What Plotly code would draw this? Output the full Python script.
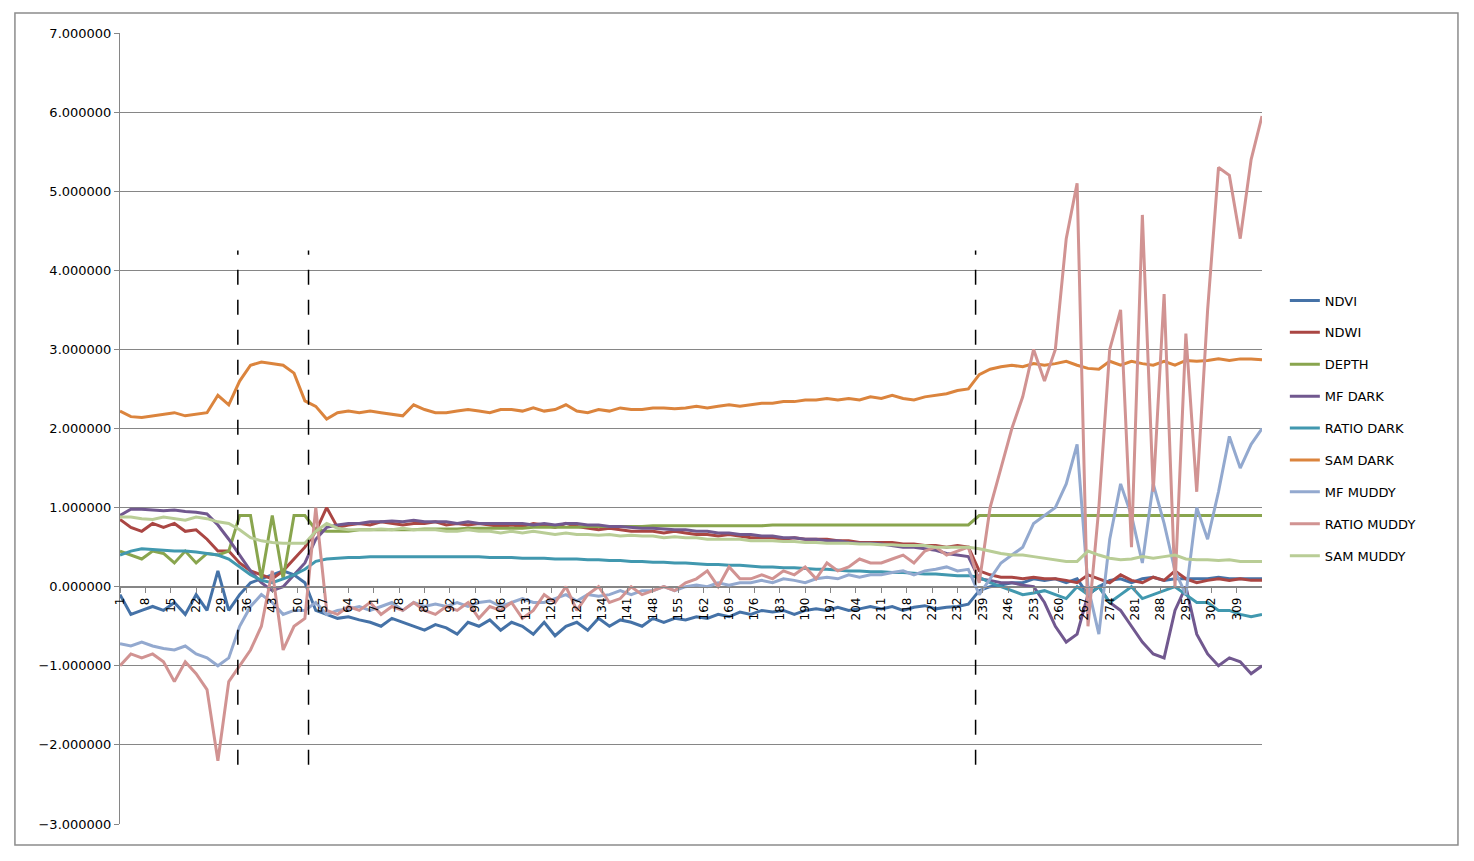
import plotly.graph_objects as go

# sample index (every 3rd row of the original sheet)
x_idx = list(range(1, 317, 3))
x_ticks = list(range(1, 316, 7))

ndvi = [-0.1, -0.35, -0.3, -0.25, -0.3, -0.2, -0.35, -0.1, -0.3, 0.2,
        -0.3, -0.1, 0.05, 0.1, 0.15, 0.2, 0.15, 0.05, -0.3, -0.35,
        -0.4, -0.38, -0.42, -0.45, -0.5, -0.4, -0.45, -0.5, -0.55, -0.48,
        -0.52, -0.6, -0.45, -0.5, -0.42, -0.55, -0.45, -0.5, -0.6, -0.45,
        -0.62, -0.5, -0.45, -0.55, -0.4, -0.5, -0.42, -0.45, -0.5, -0.4,
        -0.45, -0.4, -0.42, -0.38, -0.4, -0.35, -0.38, -0.32, -0.35, -0.3,
        -0.32, -0.3, -0.35, -0.3, -0.28, -0.3, -0.26, -0.3, -0.28, -0.25,
        -0.28, -0.25, -0.3, -0.26, -0.24, -0.28, -0.26, -0.25, -0.22, -0.05,
        0.0, 0.02, 0.05, 0.05, 0.1, 0.08, 0.1, 0.05, 0.1, -0.1,
        0.0, 0.08, 0.1, 0.05, 0.1, 0.12, 0.08, 0.1, 0.1, 0.1,
        0.1, 0.12, 0.1, 0.1, 0.1, 0.1]
ndwi = [0.85, 0.75, 0.7, 0.8, 0.75, 0.8, 0.7, 0.72, 0.6, 0.45,
        0.45, 0.3, 0.2, 0.15, 0.1, 0.2, 0.35, 0.5, 0.7, 1.0,
        0.75, 0.78, 0.8, 0.78, 0.82, 0.8, 0.78, 0.8, 0.8, 0.82,
        0.78, 0.8, 0.78, 0.8, 0.78, 0.76, 0.78, 0.76, 0.8, 0.78,
        0.75, 0.8, 0.76, 0.74, 0.72, 0.74, 0.72, 0.7, 0.7, 0.7,
        0.68, 0.7, 0.68, 0.66, 0.66, 0.64, 0.66, 0.64, 0.62, 0.62,
        0.62, 0.6, 0.62, 0.6, 0.6, 0.6, 0.58, 0.58, 0.56, 0.56,
        0.56, 0.56, 0.54, 0.54, 0.52, 0.52, 0.5, 0.52, 0.5, 0.2,
        0.15, 0.12, 0.12, 0.1, 0.12, 0.1, 0.1, 0.08, 0.05, 0.15,
        0.1, 0.05, 0.15, 0.08, 0.05, 0.12, 0.08, 0.2, 0.1, 0.05,
        0.08, 0.1, 0.08, 0.1, 0.08, 0.08]
depth = [0.45, 0.4, 0.35, 0.45, 0.42, 0.3, 0.45, 0.3, 0.42, 0.4,
         0.45, 0.9, 0.9, 0.1, 0.9, 0.1, 0.9, 0.9, 0.72, 0.7,
         0.7, 0.7, 0.72, 0.72, 0.72, 0.72, 0.72, 0.72, 0.73, 0.73,
         0.73, 0.73, 0.74, 0.74, 0.74, 0.74, 0.74, 0.74, 0.75, 0.75,
         0.75, 0.75, 0.75, 0.76, 0.76, 0.76, 0.76, 0.76, 0.76, 0.77,
         0.77, 0.77, 0.77, 0.77, 0.77, 0.77, 0.77, 0.77, 0.77, 0.77,
         0.78, 0.78, 0.78, 0.78, 0.78, 0.78, 0.78, 0.78, 0.78, 0.78,
         0.78, 0.78, 0.78, 0.78, 0.78, 0.78, 0.78, 0.78, 0.78, 0.9,
         0.9, 0.9, 0.9, 0.9, 0.9, 0.9, 0.9, 0.9, 0.9, 0.9,
         0.9, 0.9, 0.9, 0.9, 0.9, 0.9, 0.9, 0.9, 0.9, 0.9,
         0.9, 0.9, 0.9, 0.9, 0.9, 0.9]
mf_dark = [0.9, 0.98, 0.98, 0.97, 0.96, 0.97, 0.95, 0.94, 0.92, 0.78,
           0.6, 0.4, 0.2, 0.05, -0.05, 0.0, 0.15, 0.3, 0.6, 0.75,
           0.78, 0.8, 0.8, 0.82, 0.82, 0.83, 0.82, 0.84, 0.82, 0.82,
           0.82, 0.8, 0.82, 0.8, 0.8, 0.8, 0.8, 0.8, 0.78, 0.8,
           0.78, 0.8, 0.8, 0.78, 0.78, 0.76, 0.76, 0.75, 0.74, 0.74,
           0.73, 0.72, 0.72, 0.7, 0.7, 0.68, 0.68, 0.66, 0.66, 0.64,
           0.64, 0.62, 0.62, 0.6, 0.6, 0.58, 0.58, 0.56, 0.55, 0.55,
           0.54, 0.52, 0.5, 0.5, 0.48, 0.46, 0.42, 0.4, 0.38, 0.1,
           0.08, 0.05, 0.05, 0.02, 0.0, -0.2, -0.5, -0.7, -0.6, -0.1,
           0.0, -0.2, -0.3, -0.5, -0.7, -0.85, -0.9, -0.3, 0.0, -0.6,
           -0.85, -1.0, -0.9, -0.95, -1.1, -1.0]
ratio_dark = [0.4, 0.45, 0.48, 0.47, 0.46, 0.45, 0.45, 0.44, 0.42, 0.4,
              0.35, 0.25, 0.15, 0.08, 0.05, 0.1, 0.15, 0.22, 0.32, 0.35,
              0.36, 0.37, 0.37, 0.38, 0.38, 0.38, 0.38, 0.38, 0.38, 0.38,
              0.38, 0.38, 0.38, 0.38, 0.37, 0.37, 0.37, 0.36, 0.36, 0.36,
              0.35, 0.35, 0.35, 0.34, 0.34, 0.33, 0.33, 0.32, 0.32, 0.31,
              0.31, 0.3, 0.3, 0.29, 0.28, 0.28, 0.27, 0.27, 0.26, 0.25,
              0.25, 0.24, 0.24, 0.23, 0.22, 0.22, 0.21, 0.2, 0.2, 0.19,
              0.19, 0.18, 0.18, 0.17, 0.16, 0.16, 0.15, 0.14, 0.14, 0.12,
              0.05, 0.0, -0.05, -0.1, -0.08, -0.05, -0.1, -0.15, 0.0, -0.1,
              0.0, -0.2, -0.1, 0.0, -0.15, -0.1, -0.05, 0.0, -0.1, -0.2,
              -0.2, -0.3, -0.3, -0.35, -0.38, -0.35]
sam_dark = [2.22, 2.15, 2.14, 2.16, 2.18, 2.2, 2.16, 2.18, 2.2, 2.42,
            2.3, 2.6, 2.8, 2.84, 2.82, 2.8, 2.7, 2.35, 2.28, 2.12,
            2.2, 2.22, 2.2, 2.22, 2.2, 2.18, 2.16, 2.3, 2.24, 2.2,
            2.2, 2.22, 2.24, 2.22, 2.2, 2.24, 2.24, 2.22, 2.26, 2.22,
            2.24, 2.3, 2.22, 2.2, 2.24, 2.22, 2.26, 2.24, 2.24, 2.26,
            2.26, 2.25, 2.26, 2.28, 2.26, 2.28, 2.3, 2.28, 2.3, 2.32,
            2.32, 2.34, 2.34, 2.36, 2.36, 2.38, 2.36, 2.38, 2.36, 2.4,
            2.38, 2.42, 2.38, 2.36, 2.4, 2.42, 2.44, 2.48, 2.5, 2.68,
            2.75, 2.78, 2.8, 2.78, 2.82, 2.8, 2.82, 2.85, 2.8, 2.76,
            2.75, 2.85, 2.8, 2.85, 2.82, 2.8, 2.85, 2.8, 2.86, 2.85,
            2.86, 2.88, 2.86, 2.88, 2.88, 2.87]
mf_muddy = [-0.72, -0.75, -0.7, -0.75, -0.78, -0.8, -0.75, -0.85, -0.9, -1.0,
            -0.9, -0.5, -0.25, -0.1, -0.2, -0.35, -0.3, -0.3, -0.2, -0.35,
            -0.3, -0.28, -0.25, -0.3, -0.25, -0.2, -0.3, -0.2, -0.25, -0.22,
            -0.25, -0.2, -0.25, -0.2, -0.18, -0.25, -0.2, -0.15, -0.2, -0.2,
            -0.15, -0.1, -0.18, -0.1, -0.12, -0.1, -0.05, -0.1, -0.05, -0.05,
            0.0, -0.05, 0.0, 0.02, 0.0, 0.05, 0.02, 0.05, 0.05, 0.08,
            0.05, 0.1, 0.08, 0.05, 0.1, 0.12, 0.1, 0.15, 0.12, 0.15,
            0.15, 0.18, 0.2, 0.15, 0.2, 0.22, 0.25, 0.2, 0.22, -0.1,
            0.1, 0.3, 0.4, 0.5, 0.8, 0.9, 1.0, 1.3, 1.8, 0.0,
            -0.6, 0.6, 1.3, 0.9, 0.3, 1.3, 0.8, 0.2, -0.1, 1.0,
            0.6, 1.2, 1.9, 1.5, 1.8, 2.0]
ratio_muddy = [-1.0, -0.85, -0.9, -0.85, -0.95, -1.2, -0.95, -1.1, -1.3, -2.2,
               -1.2, -1.0, -0.8, -0.5, 0.2, -0.8, -0.5, -0.4, 1.0, -0.3,
               -0.35, -0.25, -0.3, -0.2, -0.35, -0.25, -0.3, -0.2, -0.3, -0.35,
               -0.25, -0.3, -0.2, -0.4, -0.25, -0.3, -0.2, -0.4, -0.3, -0.1,
               -0.2, 0.0, -0.3, -0.1, 0.0, -0.2, -0.15, 0.0, -0.1, -0.05,
               0.0, -0.05, 0.05, 0.1, 0.2, 0.0, 0.25, 0.1, 0.1, 0.15,
               0.1, 0.2, 0.15, 0.25, 0.1, 0.3, 0.2, 0.25, 0.35, 0.3,
               0.3, 0.35, 0.4, 0.3, 0.45, 0.5, 0.4, 0.45, 0.5, 0.05,
               1.0, 1.5, 2.0, 2.4, 3.0, 2.6, 3.0, 4.4, 5.1, -0.5,
               1.0, 3.0, 3.5, 0.5, 4.7, 1.2, 3.7, 0.0, 3.2, 1.2,
               3.5, 5.3, 5.2, 4.4, 5.4, 5.95]
sam_muddy = [0.88, 0.88, 0.86, 0.85, 0.88, 0.86, 0.84, 0.88, 0.86, 0.82,
             0.8, 0.72, 0.62, 0.58, 0.56, 0.55, 0.55, 0.55, 0.7, 0.8,
             0.74, 0.72, 0.72, 0.72, 0.73, 0.72, 0.74, 0.72, 0.72, 0.72,
             0.7, 0.7, 0.72, 0.7, 0.7, 0.68, 0.7, 0.68, 0.7, 0.68,
             0.66, 0.68, 0.66, 0.66, 0.65, 0.66, 0.64, 0.65, 0.64, 0.64,
             0.62, 0.63, 0.62, 0.62, 0.6, 0.6, 0.6, 0.6, 0.58, 0.58,
             0.58, 0.57, 0.57, 0.56, 0.56, 0.55, 0.55, 0.55, 0.54, 0.54,
             0.53, 0.53, 0.52, 0.52, 0.52, 0.5, 0.5, 0.5, 0.5, 0.48,
             0.45, 0.42, 0.4, 0.4, 0.38, 0.36, 0.34, 0.32, 0.32, 0.45,
             0.4, 0.36, 0.34, 0.35, 0.38, 0.36, 0.38, 0.4, 0.35, 0.34,
             0.34, 0.33, 0.34, 0.32, 0.32, 0.32]

series = [
    ("NDVI", ndvi, "#4572A7"),
    ("NDWI", ndwi, "#AA4643"),
    ("DEPTH", depth, "#89A54E"),
    ("MF DARK", mf_dark, "#71588F"),
    ("RATIO DARK", ratio_dark, "#4198AF"),
    ("SAM DARK", sam_dark, "#DB843D"),
    ("MF MUDDY", mf_muddy, "#93A9CF"),
    ("RATIO MUDDY", ratio_muddy, "#D19392"),
    ("SAM MUDDY", sam_muddy, "#B9CD96"),
]
dash_at = [33.5, 53, 237]

fig = go.Figure()
for name, vals, col in series:
    fig.add_trace(go.Scatter(x=x_idx, y=vals, mode="lines", name=name, legendgroup=name,
                             line=dict(color=col, width=3)))

for xv in dash_at:
    fig.add_shape(type="line", xref="x", yref="y", x0=xv, x1=xv, y0=-2.25, y1=4.25,
                  line=dict(color="black", width=1.5, dash="longdash"))

# outer chart border
fig.add_shape(type="rect", xref="paper", yref="paper", x0=-0.092, x1=1.1716,
              y0=-0.0265, y1=1.0253, line=dict(color="#8c8c8c", width=1.5))

fig.update_layout(
    width=1474, height=861,
    margin=dict(l=112, r=220, t=25, b=45),
    paper_bgcolor="white", plot_bgcolor="white",
    font=dict(family="DejaVu Sans", size=13, color="black"),
    legend=dict(x=1.02, y=0.5, yanchor="middle", tracegroupgap=12,
                font=dict(size=13)),
)
fig.update_xaxes(range=[1, 316], tickvals=x_ticks, ticktext=[str(t) for t in x_ticks],
                 tickangle=-90, anchor="free", position=0.3, showline=True,
                 linecolor="#868686", ticks="outside", ticklen=5, tickcolor="#868686",
                 showgrid=False, zeroline=False, tickfont=dict(size=12))
fig.update_yaxes(range=[-3, 7], dtick=1, tickformat=".6f", showgrid=True,
                 gridcolor="#868686", gridwidth=1, showline=True, linecolor="#868686",
                 ticks="outside", ticklen=5, tickcolor="#868686", zeroline=False)

fig.write_html("out.html")
